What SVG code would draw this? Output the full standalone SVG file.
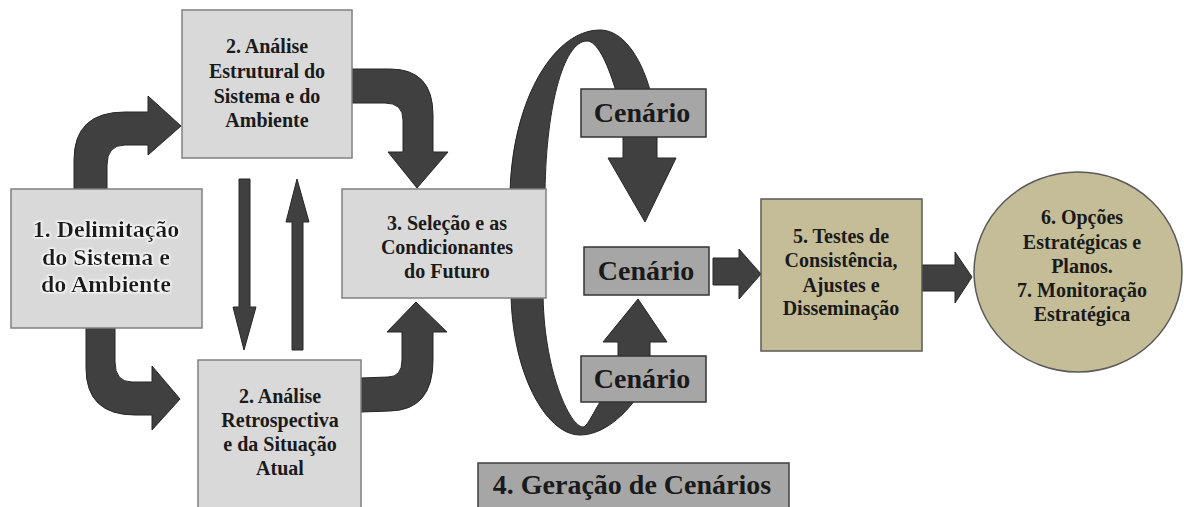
<svg xmlns="http://www.w3.org/2000/svg" width="1184" height="507" viewBox="0 0 1184 507">
<style>
.box{fill:#d9d9d9;stroke:#808080;stroke-width:1.5}
.cen{fill:#a6a6a6;stroke:#333333;stroke-width:1.5}
.tan{fill:#c4bd97;stroke:#595959;stroke-width:1.5}
.arr{fill:#404040;stroke:#262626;stroke-width:1}
.lbl{font-family:'Liberation Serif','DejaVu Serif',serif;font-weight:bold;fill:#1a1a1a;text-anchor:middle}
.t1{font-size:24px}
.t2{font-size:20px}
.tc{font-size:28px}
.t4{font-size:28px}
.t5{font-size:20px}
</style>
<defs>
<filter id="glow" x="-10%" y="-20%" width="120%" height="140%">
<feMorphology in="SourceAlpha" operator="dilate" radius="1.2" result="d"/>
<feGaussianBlur in="d" stdDeviation="1" result="b"/>
<feFlood flood-color="#ffffff"/>
<feComposite in2="b" operator="in" result="w"/>
<feMerge><feMergeNode in="w"/><feMergeNode in="SourceGraphic"/></feMerge>
</filter>
</defs>
<rect width="1184" height="507" fill="#ffffff"/>
<g id="connectors">
<path class="arr" d="M 74 189 L 74 160 Q 74 112 125 112 L 148 112 L 148 96 L 181 126 L 148 155 L 148 145 L 125 145 Q 107 145 107 165 L 107 189 Z"/>
<path class="arr" d="M 86 328 L 86 368 Q 86 415 135 415 L 152 415 L 152 430 L 180 399 L 152 366 L 152 382 L 132 382 Q 115 382 115 362 L 115 328 Z"/>
<path class="arr" d="M 352 69 L 390 69 Q 433 69 433 115 L 433 152 L 448 152 L 417 188 L 388 152 L 403 152 L 403 120 Q 403 103 385 103 L 352 103 Z"/>
<path class="arr" d="M 361 378 L 388 377 Q 402 377 402 360 L 402 332 L 387 332 L 416 302 L 447 332 L 433 332 L 433 360 Q 433 410 390 411 L 361 412 Z"/>
<path class="arr" d="M 239 179 L 250 179 L 250 307 L 256 307 L 244 350 L 233 307 L 239 307 Z"/>
<path class="arr" d="M 292 350 L 303 350 L 303 222 L 309 222 L 297 179 L 286 222 L 292 222 Z"/>
<path class="arr" d="M 510 200 C 510 105 552 30 600 30 C 622 30 640 55 650 90 L 657 120 L 657 158 L 676 158 L 645 222 L 608 158 L 623 158 L 623 120 L 615 88 C 607 62 597 41 587 41 C 563 41 545 110 545 200 Z"/>
<path class="arr" d="M 511 290 C 511 370 545 435 580 435 C 600 435 620 420 635 400 L 650 370 L 650 342 L 667 342 L 638 299 L 603 342 L 618 342 L 618 370 L 600 402 C 592 415 587 427 583 427 C 570 427 543 370 543 290 Z"/>
<path class="arr" d="M 713 258 L 739 258 L 739 249 L 761 274 L 739 299 L 739 285 L 713 285 Z"/>
<path class="arr" d="M 922 265 L 955 265 L 955 252 L 972 277 L 955 303 L 955 291 L 922 291 Z"/>
</g>
<g id="n1">
<rect class="box" x="11" y="189" width="191" height="139"/>
<g filter="url(#glow)">
<text class="lbl t1" x="106" y="237">1. Delimitação</text>
<text class="lbl t1" x="106" y="265">do Sistema e</text>
<text class="lbl t1" x="106" y="292">do Ambiente</text>
</g>
</g>
<g id="n2a">
<rect class="box" x="182" y="10" width="170" height="148"/>
<text class="lbl t2" x="267" y="53">2. Análise</text>
<text class="lbl t2" x="267" y="78">Estrutural do</text>
<text class="lbl t2" x="267" y="103">Sistema e do</text>
<text class="lbl t2" x="267" y="127">Ambiente</text>
</g>
<g id="n2b">
<rect class="box" x="198" y="360" width="163" height="160"/>
<text class="lbl t2" x="280" y="403">2. Análise</text>
<text class="lbl t2" x="280" y="427">Retrospectiva</text>
<text class="lbl t2" x="280" y="451">e da Situação</text>
<text class="lbl t2" x="280" y="475">Atual</text>
</g>
<g id="n3">
<rect class="box" x="342" y="189" width="204" height="109"/>
<text class="lbl t2" x="447" y="230">3. Seleção e as</text>
<text class="lbl t2" x="447" y="254">Condicionantes</text>
<text class="lbl t2" x="447" y="278">do Futuro</text>
</g>
<g id="cen1">
<rect class="cen" x="581" y="89" width="125" height="48"/>
<text class="lbl tc" x="642" y="122">Cenário</text>
</g>
<g id="cen2">
<rect class="cen" x="584" y="247" width="125" height="48"/>
<text class="lbl tc" x="646" y="280">Cenário</text>
</g>
<g id="cen3">
<rect class="cen" x="581" y="356" width="125" height="46"/>
<text class="lbl tc" x="642" y="388">Cenário</text>
</g>
<g id="n4">
<rect class="cen" x="478" y="463" width="311" height="50" style="stroke:#404040"/>
<text class="lbl t4" x="632" y="494">4. Geração de Cenários</text>
</g>
<g id="n5">
<rect class="tan" x="761" y="199" width="161" height="152"/>
<text class="lbl t5" x="841" y="243">5. Testes de</text>
<text class="lbl t5" x="841" y="267">Consistência,</text>
<text class="lbl t5" x="841" y="292">Ajustes e</text>
<text class="lbl t5" x="841" y="315">Disseminação</text>
</g>
<g id="n6">
<ellipse class="tan" cx="1078" cy="272" rx="104" ry="100"/>
<text class="lbl t5" x="1082" y="224">6. Opções</text>
<text class="lbl t5" x="1082" y="249">Estratégicas e</text>
<text class="lbl t5" x="1082" y="273">Planos.</text>
<text class="lbl t5" x="1082" y="297">7. Monitoração</text>
<text class="lbl t5" x="1082" y="321">Estratégica</text>
</g>
</svg>
